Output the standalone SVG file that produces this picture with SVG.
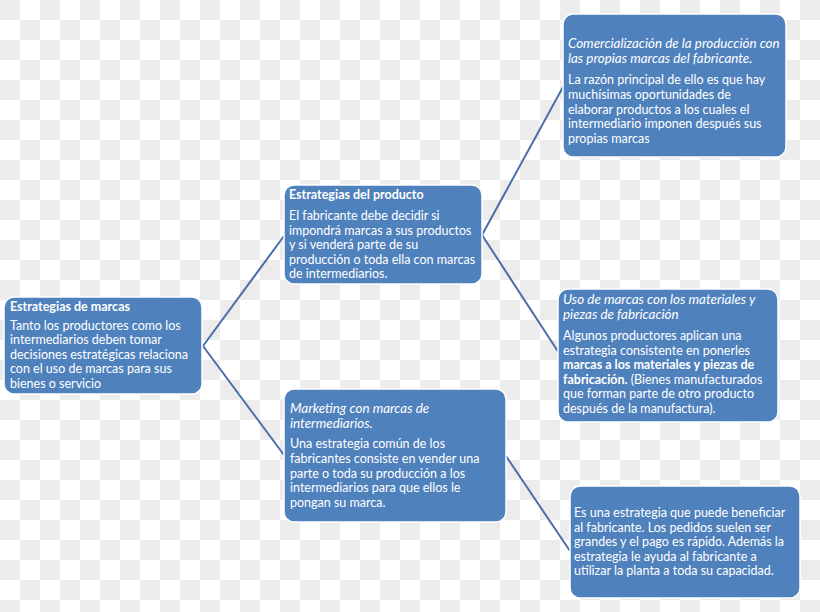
<svg xmlns="http://www.w3.org/2000/svg" width="820" height="612" viewBox="0 0 820 612">
<defs>
<pattern id="chk" x="0" y="0" width="40" height="40" patternUnits="userSpaceOnUse">
<rect width="40" height="40" fill="#ffffff"/>
<rect x="0" y="0" width="20" height="20" fill="#ececec"/>
<rect x="20" y="20" width="20" height="20" fill="#ececec"/>
</pattern>
</defs>
<style>
.box{fill:#4f81bd;stroke:#ffffff;stroke-width:1.5}
.t{font-family:Lato,"Liberation Sans",sans-serif;font-size:12.5px;fill:#ffffff}
.h{font-weight:bold}
.i{font-style:italic;font-size:13.4px}
.b{font-weight:bold}
.c{stroke:#4a6fa8;stroke-width:2;fill:none}
</style>
<rect width="820" height="612" fill="url(#chk)"/>
<g id="connectors">
<path class="c" d="M203,346 L284,236"/>
<path class="c" d="M203,346 L284,455"/>
<path class="c" d="M482,235 L563,87"/>
<path class="c" d="M482,235 L559,353"/>
<path class="c" d="M506,456 L570,551"/>
</g>
<g id="n1">
<rect class="box" x="4" y="297" width="198" height="97" rx="10"/>
<text class="t h" x="10" y="311">Estrategias de marcas</text>
<text class="t" x="10" y="330">Tanto los productores como los</text>
<text class="t" x="10" y="344">intermediarios deben tomar</text>
<text class="t" x="10" y="359">decisiones estratégicas relaciona</text>
<text class="t" x="10" y="373">con el uso de marcas para sus</text>
<text class="t" x="10" y="388">bienes o servicio</text>
</g>
<g id="n2">
<rect class="box" x="284" y="185" width="198" height="99" rx="10"/>
<text class="t h" x="289" y="199">Estrategias del producto</text>
<text class="t" x="289" y="220">El fabricante debe decidir si</text>
<text class="t" x="289" y="235">impondrá marcas a sus productos</text>
<text class="t" x="289" y="249">y si venderá parte de su</text>
<text class="t" x="289" y="264">producción o toda ella con marcas</text>
<text class="t" x="289" y="278">de intermediarios.</text>
</g>
<g id="n3">
<rect class="box" x="284" y="389" width="222" height="133" rx="10"/>
<text class="t i" x="290" y="413">Marketing con marcas de</text>
<text class="t i" x="290" y="428">intermediarios.</text>
<text class="t" x="290" y="448">Una estrategia común de los</text>
<text class="t" x="290" y="463">fabricantes consiste en vender una</text>
<text class="t" x="290" y="478">parte o toda su producción a los</text>
<text class="t" x="290" y="492">intermediarios para que ellos le</text>
<text class="t" x="290" y="507">pongan su marca.</text>
</g>
<g id="n4">
<rect class="box" x="563" y="14" width="223" height="143" rx="10"/>
<text class="t i" x="568" y="48">Comercialización de la producción con</text>
<text class="t i" x="568" y="63">las propias marcas del fabricante.</text>
<text class="t" x="568" y="84">La razón principal de ello es que hay</text>
<text class="t" x="568" y="99">muchísimas oportunidades de</text>
<text class="t" x="568" y="114">elaborar productos a los cuales el</text>
<text class="t" x="568" y="128">intermediario imponen después sus</text>
<text class="t" x="568" y="143">propias marcas</text>
</g>
<g id="n5">
<rect class="box" x="558" y="289" width="220" height="133" rx="10"/>
<text class="t i" x="563" y="304">Uso de marcas con los materiales y</text>
<text class="t i" x="563" y="319">piezas de fabricación</text>
<text class="t" x="563" y="340">Algunos productores aplican una</text>
<text class="t" x="563" y="355">estrategia consistente en ponerles</text>
<text class="t b" x="563" y="369">marcas a los materiales y piezas de</text>
<text class="t" x="563" y="384"><tspan class="b">fabricación.</tspan> (Bienes manufacturados</text>
<text class="t" x="563" y="398">que forman parte de otro producto</text>
<text class="t" x="563" y="413">después de la manufactura).</text>
</g>
<g id="n6">
<rect class="box" x="570" y="486" width="230" height="112" rx="10"/>
<text class="t" x="574" y="517">Es una estrategia que puede beneficiar</text>
<text class="t" x="574" y="532">al fabricante. Los pedidos suelen ser</text>
<text class="t" x="574" y="546">grandes y el pago es rápido. Además la</text>
<text class="t" x="574" y="561">estrategia le ayuda al fabricante a</text>
<text class="t" x="574" y="575">utilizar la planta a toda su capacidad.</text>
</g>
</svg>
